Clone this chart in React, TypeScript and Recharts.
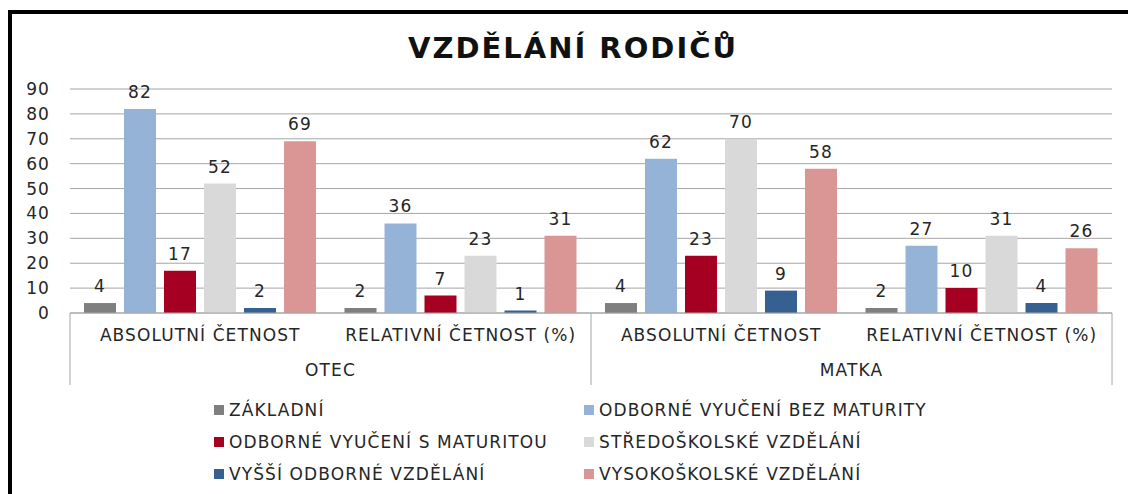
import { BarChart, Bar, XAxis, YAxis, CartesianGrid, LabelList } from 'recharts'

const measures = ['ABSOLUTNÍ ČETNOST', 'RELATIVNÍ ČETNOST (%)', 'ABSOLUTNÍ ČETNOST', 'RELATIVNÍ ČETNOST (%)']
const parents = ['OTEC', 'OTEC', 'MATKA', 'MATKA']

const zakladni = [4, 2, 4, 2]
const bezMaturity = [82, 36, 62, 27]
const sMaturitou = [17, 7, 23, 10]
const stredoskolske = [52, 23, 70, 31]
const vyssiOdborne = [2, 1, 9, 4]
const vysokoskolske = [69, 31, 58, 26]

const yTicks = [0, 10, 20, 30, 40, 50, 60, 70, 80, 90]

const series = [
  { key: 'zakladni', name: 'ZÁKLADNÍ', values: zakladni, color: '#7f7f7f' },
  { key: 'bezMaturity', name: 'ODBORNÉ VYUČENÍ BEZ MATURITY', values: bezMaturity, color: '#95b3d7' },
  { key: 'sMaturitou', name: 'ODBORNÉ VYUČENÍ S MATURITOU', values: sMaturitou, color: '#a50021' },
  { key: 'stredoskolske', name: 'STŘEDOŠKOLSKÉ VZDĚLÁNÍ', values: stredoskolske, color: '#d9d9d9' },
  { key: 'vyssiOdborne', name: 'VYŠŠÍ ODBORNÉ VZDĚLÁNÍ', values: vyssiOdborne, color: '#366092' },
  { key: 'vysokoskolske', name: 'VYSOKOŠKOLSKÉ VZDĚLÁNÍ', values: vysokoskolske, color: '#da9694' },
]

const data = measures.map((m, i) => {
  const row: Record<string, string | number> = { measure: m, parent: parents[i] }
  series.forEach((s) => { row[s.key] = s.values[i] })
  return row
})

// the original is a stretched Calibri screenshot, a wide font + tracking gets close
const FONT = '"DejaVu Sans", sans-serif'
const FS = 17
const TRACK = 1.1
const TEXT = '#262626'
const LINE = '#a6a6a6'
const W = 1128
const H = 494
const PLOT_LEFT = 70
const PLOT_RIGHT = 1112
const PLOT_BOTTOM = 313
const HALF_PARENT = (PLOT_RIGHT - PLOT_LEFT) / 4

const tickStyle = { fill: TEXT, fontSize: FS, fontFamily: FONT, letterSpacing: TRACK }

function ParentTick(props: any) {
  const { x, y, payload, index, visibleTicksCount } = props
  const last = index === (visibleTicksCount ?? 2) - 1
  return (
    <g>
      <line x1={x - HALF_PARENT} x2={x - HALF_PARENT} y1={PLOT_BOTTOM} y2={385} stroke={LINE} />
      {last && <line x1={x + HALF_PARENT} x2={x + HALF_PARENT} y1={PLOT_BOTTOM} y2={385} stroke={LINE} />}
      <text x={x} y={y} dy="0.71em" textAnchor="middle" fill={TEXT} fontSize={FS} fontFamily={FONT}
        letterSpacing={TRACK}>
        {payload.value}
      </text>
    </g>
  )
}

export default function App() {
  return (
    <div style={{ position: 'fixed', left: 0, top: 0, width: W, height: H, overflow: 'hidden', background: '#fff' }}>
      <div style={{ position: 'absolute', left: 8, top: 10, width: 1140, height: 500, border: '4px solid #000' }} />
      <div
        style={{
          position: 'absolute', left: 0, top: 31, width: 1146, textAlign: 'center', lineHeight: '34px',
          fontFamily: FONT, fontWeight: 700, fontSize: 29, letterSpacing: 2, color: '#111',
        }}
      >
        VZDĚLÁNÍ RODIČŮ
      </div>
      <div style={{ position: 'absolute', left: 0, top: 0 }}>
        <BarChart width={W} height={H} data={data} margin={{ top: 89, right: W - PLOT_RIGHT, left: 0, bottom: 105 }}
          barCategoryGap={14} barGap={8}>
          <CartesianGrid horizontal vertical={false} stroke={LINE} />
          <YAxis domain={[0, 90]} ticks={yTicks} interval={0} width={PLOT_LEFT} axisLine={false} tickLine={false}
            tickSize={0} tickMargin={20} tick={tickStyle} />
          <XAxis dataKey="measure" height={36} axisLine={{ stroke: LINE }} tickLine={false} tickSize={0}
            tickMargin={16} interval={0} tick={tickStyle} />
          <XAxis xAxisId="parent" dataKey="parent" allowDuplicatedCategory={false} height={40}
            axisLine={false} tickLine={false} tickSize={0} tickMargin={15} interval={0} tick={<ParentTick />} />
          {series.map((s) => (
            <Bar key={s.key} dataKey={s.key} name={s.name} fill={s.color} isAnimationActive={false}>
              <LabelList dataKey={s.key} position="top" offset={11} fill={TEXT} fontSize={FS} fontFamily={FONT}
                letterSpacing={TRACK} />
            </Bar>
          ))}
        </BarChart>
      </div>
      <div
        style={{
          position: 'absolute', left: 214, top: 399, display: 'grid', gridTemplateColumns: '370px 380px',
          rowGap: 10, fontFamily: FONT, fontSize: FS, letterSpacing: TRACK, color: TEXT,
        }}
      >
        {series.map((s) => (
          <div key={s.key} style={{ display: 'flex', alignItems: 'center', height: 22, whiteSpace: 'nowrap' }}>
            <span style={{ width: 10, height: 10, background: s.color, marginRight: 5, display: 'inline-block' }} />
            {s.name}
          </div>
        ))}
      </div>
    </div>
  )
}
